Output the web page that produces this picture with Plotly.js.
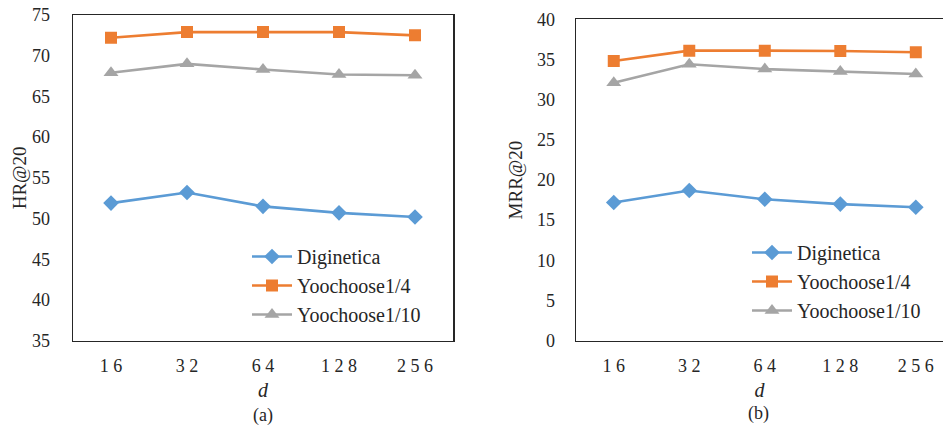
<!DOCTYPE html>
<html>
<head>
<meta charset="utf-8">
<script src="https://cdn.plot.ly/plotly-3.0.1.min.js"></script>
<style>html,body{margin:0;padding:0;background:#fff;}#chart{width:943px;height:426px;}</style>
</head>
<body>
<div id="chart"></div>
<script>
const dims = ["16", "32", "64", "128", "256"];
const seriesNames = ["Diginetica", "Yoochoose1/4", "Yoochoose1/10"];
const hrDiginetica = [51.9, 53.2, 51.5, 50.7, 50.2];
const hrYoo4 = [72.2, 72.9, 72.9, 72.9, 72.5];
const hrYoo10 = [67.9, 69.0, 68.3, 67.7, 67.6];
const mrrDiginetica = [17.2, 18.7, 17.6, 17.0, 16.6];
const mrrYoo4 = [34.8, 36.1, 36.1, 36.05, 35.9];
const mrrYoo10 = [32.1, 34.4, 33.8, 33.5, 33.2];
const hrTicks = [35, 40, 45, 50, 55, 60, 65, 70, 75];
const mrrTicks = [0, 5, 10, 15, 20, 25, 30, 35, 40];

const colors = ["#5B9BD5", "#ED7D31", "#A5A5A5"];
const symbols = ["diamond", "square", "triangle-up"];
const sizes = [12, 12, 13];
const FONT = "Liberation Serif";
const spaced = dims.map(s => s.split("").join(" "));

function mk(y, i, xa, ya, leg) {
  return {
    x: dims, y: y, xaxis: xa, yaxis: ya, name: seriesNames[i],
    type: "scatter", mode: "lines+markers", legend: leg,
    legendgroup: leg + i,
    line: {color: colors[i], width: 2.6},
    marker: {symbol: symbols[i], size: sizes[i], color: colors[i]}
  };
}
const data = [
  mk(hrDiginetica, 0, "x", "y", "legend"),
  mk(hrYoo4, 1, "x", "y", "legend"),
  mk(hrYoo10, 2, "x", "y", "legend"),
  mk(mrrDiginetica, 0, "x2", "y2", "legend2"),
  mk(mrrYoo4, 1, "x2", "y2", "legend2"),
  mk(mrrYoo10, 2, "x2", "y2", "legend2")
];

const TXT = "#262626";
const axCommon = {
  showgrid: false, zeroline: false, showline: true, linecolor: TXT, linewidth: 1.5,
  ticks: "", tickfont: {family: FONT, size: 18, color: TXT}, automargin: false, fixedrange: true
};
const legCommon = {
  font: {family: FONT, size: 20, color: TXT}, bgcolor: "rgba(0,0,0,0)",
  traceorder: "grouped", tracegroupgap: 0, itemwidth: 40, xanchor: "left", yanchor: "top"
};

const layout = {
  width: 943, height: 426,
  margin: {l: 0, r: 0, t: 0, b: 0},
  paper_bgcolor: "#fff", plot_bgcolor: "#fff",
  font: {family: FONT, color: TXT},
  xaxis: Object.assign({}, axCommon, {
    domain: [73/943, 453/943], anchor: "y", type: "category", range: [-0.5, 4.5],
    tickvals: dims, ticktext: spaced, mirror: true, ticklabelstandoff: 8,
    title: {text: "<i>d</i>", font: {family: FONT, size: 20, color: TXT}, standoff: 8}
  }),
  yaxis: Object.assign({}, axCommon, {
    domain: [(426-340.7)/426, (426-15)/426], anchor: "x", range: [35, 75],
    tickvals: hrTicks, mirror: true, ticklabelstandoff: 18,
    title: {text: "HR@20", font: {family: FONT, size: 19, color: TXT}, standoff: 0}
  }),
  xaxis2: Object.assign({}, axCommon, {
    domain: [576/943, 1], anchor: "y2", type: "category", range: [-0.5, 4.36],
    tickvals: dims, ticktext: spaced, mirror: true, ticklabelstandoff: 8,
    title: {text: "<i>d</i>", font: {family: FONT, size: 20, color: TXT}, standoff: 8}
  }),
  yaxis2: Object.assign({}, axCommon, {
    domain: [(426-340.7)/426, (426-19.3)/426], anchor: "x2", range: [0, 40],
    tickvals: mrrTicks, mirror: false, ticklabelstandoff: 16,
    title: {text: "MRR@20", font: {family: FONT, size: 19, color: TXT}, standoff: 9}
  }),
  legend: Object.assign({}, legCommon, {x: 247/943, y: (426-237)/426}),
  legend2: Object.assign({}, legCommon, {x: 747/943, y: (426-233)/426}),
  annotations: [
    {text: "(a)", xref: "paper", yref: "paper", x: 263/943, y: (426-415)/426, showarrow: false,
     font: {family: FONT, size: 18, color: TXT}, xanchor: "center", yanchor: "middle"},
    {text: "(b)", xref: "paper", yref: "paper", x: 758/943, y: (426-413)/426, showarrow: false,
     font: {family: FONT, size: 18, color: TXT}, xanchor: "center", yanchor: "middle"}
  ],
  showlegend: true
};

Plotly.newPlot("chart", data, layout, {displayModeBar: false, staticPlot: true});
</script>
</body>
</html>
